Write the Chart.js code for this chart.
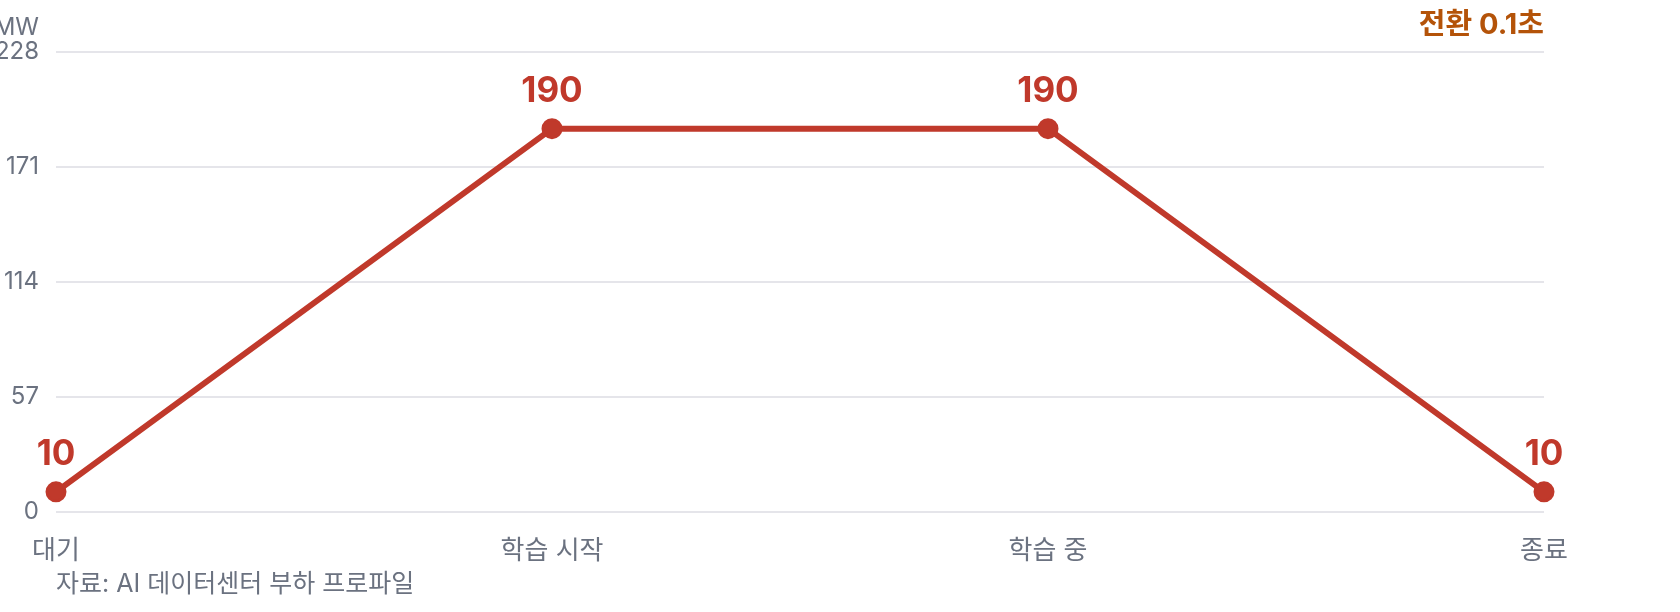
<!DOCTYPE html>
<html lang="ko">
<head>
<meta charset="utf-8">
<script src="https://cdn.jsdelivr.net/npm/chart.js@4.4.1/dist/chart.umd.min.js"></script>
<style>
    html, body { margin: 0; padding: 0; background: #fff; }
    #wrap { width: 1680px; height: 612px; position: relative; }
</style>
</head>
<body>
<div id="wrap"><canvas id="loadChart"></canvas></div>
<script>
// 데이터
const stageLabels = ['대기', '학습 시작', '학습 중', '종료'];
const loadValues = [10, 190, 190, 10];
const yMax = 228;
const yStep = 57;
const unitLabel = 'MW';
const noteText = '전환 0.1초';
const sourceText = '자료: AI 데이터센터 부하 프로파일';

const FONT = "Inter, 'Noto Sans CJK KR', sans-serif";
const RED = '#c0392b';
const GRAY = '#6b7280';

// 포인트 위 값 표시
const valueLabels = {
    id: 'valueLabels',
    afterDatasetsDraw(chart) {
        const ctx = chart.ctx;
        const meta = chart.getDatasetMeta(0);
        ctx.save();
        ctx.font = "bold 35px " + FONT;
        ctx.fillStyle = RED;
        ctx.textAlign = 'center';
        ctx.textBaseline = 'middle';
        meta.data.forEach((pt, i) => {
            ctx.fillText(String(loadValues[i]), pt.x, pt.y - 37);
        });
        ctx.restore();
    }
};

// 단위, 주석, 출처
const extraText = {
    id: 'extraText',
    afterDraw(chart) {
        const ctx = chart.ctx;
        const area = chart.chartArea;
        ctx.save();
        ctx.textBaseline = 'middle';

        ctx.font = "24px " + FONT;
        ctx.fillStyle = GRAY;
        ctx.textAlign = 'right';
        ctx.fillText(unitLabel, area.left - 17, 28);

        ctx.font = "bold 29px " + FONT;
        ctx.fillStyle = '#b45309';
        ctx.textAlign = 'right';
        ctx.fillText(noteText, area.right, 25);

        ctx.font = "25px " + FONT;
        ctx.fillStyle = GRAY;
        ctx.textAlign = 'left';
        ctx.fillText(sourceText, area.left, 584);
        ctx.restore();
    }
};

const loadChart = (id) => {
    const data = {
        labels: stageLabels,
        datasets: [{
            label: '부하',
            data: loadValues,
            fill: false,
            borderColor: RED,
            backgroundColor: RED,
            borderWidth: 6,
            pointRadius: 9,
            pointBorderWidth: 3,
            pointBackgroundColor: RED,
            pointBorderColor: RED,
            tension: 0
        }]
    };

    const config = {
        type: 'line',
        data: data,
        plugins: [valueLabels, extraText],
        options: {
            responsive: true,
            maintainAspectRatio: false,
            animation: false,
            layout: { padding: { top: 52, right: 136, left: 0, bottom: 0 } },
            plugins: {
                legend: { display: false },
                tooltip: { enabled: false }
            },
            scales: {
                x: {
                    offset: false,
                    grid: { display: false, drawTicks: false },
                    border: { display: false },
                    ticks: {
                        color: GRAY,
                        padding: 24,
                        maxRotation: 0,
                        font: { family: FONT, size: 26 }
                    },
                    afterFit(scale) { scale.height = 100; }
                },
                y: {
                    min: 0,
                    max: yMax,
                    grid: { color: '#e5e5ea', lineWidth: 2, drawTicks: false },
                    border: { display: false },
                    ticks: {
                        stepSize: yStep,
                        color: GRAY,
                        padding: 17,
                        font: { family: FONT, size: 24 }
                    },
                    afterFit(scale) { scale.width = 56; }
                }
            }
        }
    };

    let ctx = document.getElementById(id).getContext('2d');
    new Chart(ctx, config);
};

loadChart('loadChart');
</script>
</body>
</html>
